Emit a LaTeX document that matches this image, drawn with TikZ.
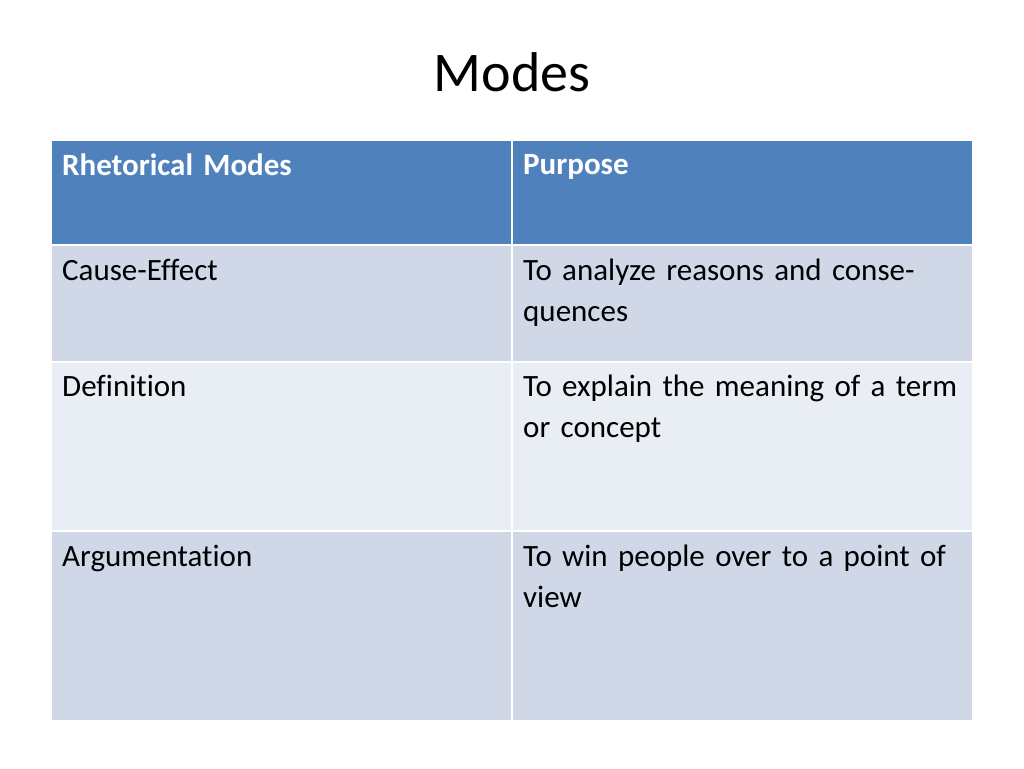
\documentclass[tikz,border=0pt]{standalone}
\usepackage{fontspec}
\setmainfont[WordSpace=0.8,Ligatures=NoCommon]{Carlito}
\definecolor{hdr}{HTML}{4F81BD}
\definecolor{rowa}{HTML}{D0D8E8}
\definecolor{rowb}{HTML}{E9EDF4}
\begin{document}
\begin{tikzpicture}[x=1pt,y=-1pt,
  cell/.style={anchor=north west,inner sep=0pt,text width=445pt,align=left,font=\fontsize{31}{41}\selectfont},
  hcell/.style={cell,text=white,font=\fontsize{31}{41}\selectfont\bfseries}]
\useasboundingbox (0,0) rectangle (1024,768);
\fill[white] (0,0) rectangle (1024,768);
\node (title) at (512,72) {\fontsize{56}{60}\selectfont Modes};
\fill[hdr] (52,141) rectangle (972,244);
\fill[rowa] (52,246) rectangle (972,361);
\fill[rowb] (52,363) rectangle (972,530);
\fill[rowa] (52,532) rectangle (972,720);
\draw[white,line width=2pt] (511.5,141) -- (511.5,720);
\node[hcell] (h1) at (62,154) {Rhetorical Modes};
\node[hcell] (h2) at (523,154) {Purpose};
\node[cell] (a1) at (62,259) {Cause-Effect};
\node[cell] (b1) at (523,259) {To analyze reasons and consequences};
\node[cell] (a2) at (62,375) {Definition};
\node[cell] (b2) at (523,375) {To explain the meaning of a term or concept};
\node[cell] (a3) at (62,545) {Argumentation};
\node[cell] (b3) at (523,545) {To win people over to a point of view};
\end{tikzpicture}
\end{document}
